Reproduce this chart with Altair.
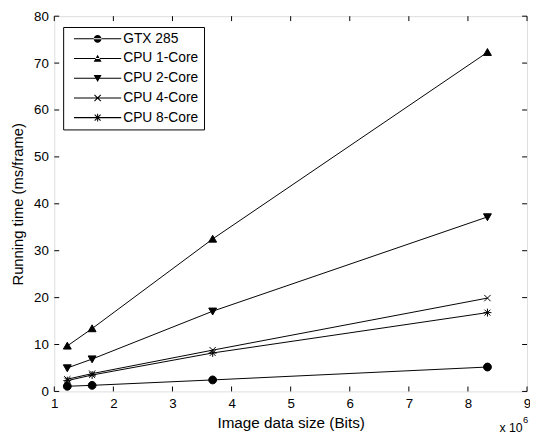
import math
import altair as alt
import pandas as pd

# ---- data (x in units of 10^6 bits, y in ms/frame) ----
sizes = [1.22, 1.64, 3.68, 8.33]
series = ["GTX 285", "CPU 1-Core", "CPU 2-Core", "CPU 4-Core", "CPU 8-Core"]
gtx285 = [1.1, 1.3, 2.45, 5.2]
cpu1 = [9.7, 13.4, 32.5, 72.3]
cpu2 = [5.0, 6.9, 17.1, 37.2]
cpu4 = [2.6, 3.8, 8.8, 19.9]
cpu8 = [2.3, 3.5, 8.2, 16.8]
x_ticks = [1, 2, 3, 4, 5, 6, 7, 8, 9]
y_ticks = [0, 10, 20, 30, 40, 50, 60, 70, 80]

values = [gtx285, cpu1, cpu2, cpu4, cpu8]
rows = []
for name, vals in zip(series, values):
    for xv, yv in zip(sizes, vals):
        rows.append({"series": name, "size": xv, "time": yv})
df = pd.DataFrame(rows)

W, H = 480, 381
FONT = "Liberation Sans"

xscale = alt.Scale(domain=[1, 9], nice=False, zero=False)
yscale = alt.Scale(domain=[0, 80], nice=False)

xaxis = alt.Axis(values=x_ticks, format="d", title="Image data size (Bits)",
                 labelFont=FONT, labelFontSize=13.5, labelColor="black",
                 titleFont=FONT, titleFontSize=15.5, titleFontWeight="normal",
                 titleColor="black", ticks=False, domain=False, grid=False,
                 labelPadding=5, titlePadding=6, labelFlush=False)
yaxis = alt.Axis(values=y_ticks, format="d", title="Running time (ms/frame)",
                 labelFont=FONT, labelFontSize=13.5, labelColor="black",
                 titleFont=FONT, titleFontSize=15, titleFontWeight="normal",
                 titleColor="black", ticks=False, domain=False, grid=False,
                 labelPadding=6, titlePadding=8, labelFlush=False)

# marker glyphs for the plotted points (unit square [-1,1])
marker_paths = [
    "M1,0A1,1,0,1,1,-1,0A1,1,0,1,1,1,0Z",
    "M0,-0.95L1,0.8L-1,0.8Z",
    "M0,0.95L1,-0.8L-1,-0.8Z",
    "M-0.8,-0.8L0.8,0.8M-0.8,0.8L0.8,-0.8",
    "M0,-1V1M-1,0H1M-0.75,-0.75L0.75,0.75M-0.75,0.75L0.75,-0.75",
]
fills = ["black", "black", "black", "transparent", "transparent"]


def seg(x1, y1, x2, y2, t=0.13):
    """thin filled polygon standing in for a stroked segment (legend glyphs are fill-only)"""
    dx, dy = x2 - x1, y2 - y1
    n = math.hypot(dx, dy)
    nx, ny = -dy / n * t, dx / n * t
    pts = [(x1 + nx, y1 + ny), (x2 + nx, y2 + ny), (x2 - nx, y2 - ny), (x1 - nx, y1 - ny)]
    return "M" + "L".join(f"{a:.3f},{b:.3f}" for a, b in pts) + "Z"


line_seg = seg(-6, 0, 6, 0)
legend_paths = [
    line_seg + marker_paths[0],
    line_seg + marker_paths[1],
    line_seg + marker_paths[2],
    line_seg + seg(-0.8, -0.8, 0.8, 0.8) + seg(-0.8, 0.8, 0.8, -0.8),
    line_seg + seg(0, -1, 0, 1) + seg(-0.75, -0.75, 0.75, 0.75) + seg(-0.75, 0.75, 0.75, -0.75),
]

base = alt.Chart(df)

lines = base.mark_line(color="black", strokeWidth=1).encode(
    x=alt.X("size:Q", scale=xscale, axis=xaxis),
    y=alt.Y("time:Q", scale=yscale, axis=yaxis),
    detail="series:N",
)

points = base.mark_point(size=64, stroke="black", strokeWidth=1, opacity=1).encode(
    x=alt.X("size:Q", scale=xscale),
    y=alt.Y("time:Q", scale=yscale),
    shape=alt.Shape("series:N", scale=alt.Scale(domain=series, range=marker_paths), legend=None),
    fill=alt.Fill("series:N", scale=alt.Scale(domain=series, range=fills), legend=None),
)

legend_layer = base.mark_point(size=64, filled=True, color="black", opacity=0).encode(
    x=alt.X("size:Q", scale=xscale),
    y=alt.Y("time:Q", scale=yscale),
    shape=alt.Shape("series:N", scale=alt.Scale(domain=series, range=legend_paths),
                    legend=alt.Legend(title=None, orient="none", legendX=9, legendY=11,
                                      strokeColor="black", fillColor="white", padding=5,
                                      cornerRadius=0, labelFont=FONT, labelFontSize=14,
                                      labelColor="black", symbolSize=64,
                                      symbolFillColor="black", symbolOpacity=1,
                                      symbolOffset=23, labelOffset=19, rowPadding=6)),
)

xt = pd.DataFrame({"v": x_ticks})
yt = pd.DataFrame({"v": y_ticks})
tick_b = alt.Chart(xt).mark_rule(color="black", strokeWidth=1).encode(
    x=alt.X("v:Q", scale=xscale), y=alt.value(H), y2=alt.value(H - 5))
tick_t = alt.Chart(xt).mark_rule(color="black", strokeWidth=1).encode(
    x=alt.X("v:Q", scale=xscale), y=alt.value(0), y2=alt.value(5))
tick_l = alt.Chart(yt).mark_rule(color="black", strokeWidth=1).encode(
    y=alt.Y("v:Q", scale=yscale), x=alt.value(0), x2=alt.value(5))
tick_r = alt.Chart(yt).mark_rule(color="black", strokeWidth=1).encode(
    y=alt.Y("v:Q", scale=yscale), x=alt.value(W), x2=alt.value(W - 5))

exp_df = pd.DataFrame({"t": ["x 10"], "e": ["6"]})
exp_base = alt.Chart(exp_df).mark_text(align="left", baseline="alphabetic", font=FONT,
                                        fontSize=12.5, color="black").encode(
    text="t:N", x=alt.value(452), y=alt.value(422))
exp_sup = alt.Chart(exp_df).mark_text(align="left", baseline="alphabetic", font=FONT,
                                       fontSize=9.5, color="black").encode(
    text="e:N", x=alt.value(476), y=alt.value(413))

chart = alt.layer(
    tick_b, tick_t, tick_l, tick_r, lines, points, legend_layer, exp_base, exp_sup
).resolve_scale(shape="independent", fill="independent").resolve_legend(
    shape="independent"
).properties(
    width=W, height=H,
    padding={"left": 47, "top": 5, "right": 3, "bottom": 45},
    autosize=alt.AutoSizeParams(type="none"),
).configure_view(stroke="black", strokeWidth=1).configure(background="white")

chart.save("out.html", embed_options={"renderer": "svg", "actions": False})
